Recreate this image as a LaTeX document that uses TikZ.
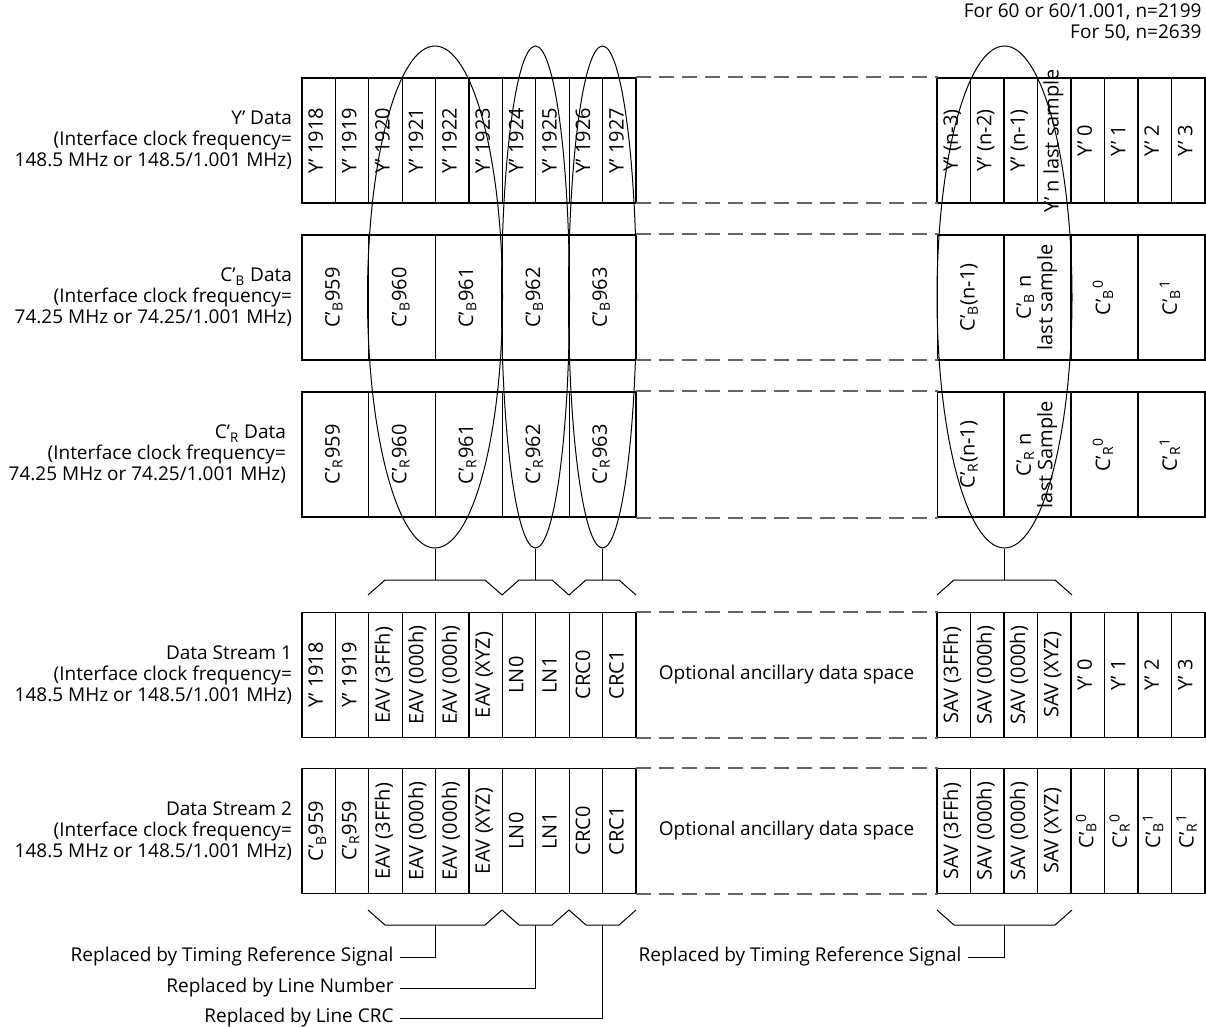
\documentclass[tikz,border=0pt]{standalone}
\usepackage{fontspec}
\setmainfont{Open Sans}
\usetikzlibrary{shapes.geometric,positioning}

\newcommand{\vlabel}[1]{\rotatebox{90}{\makebox[50pt]{\begin{tabular}{@{}c@{}}#1\end{tabular}}}}
\newcommand{\cbprime}{C’\textsubscript{B}}
\newcommand{\crprime}{C’\textsubscript{R}}

\begin{document}
\begin{tikzpicture}[x=0.5pt, y=-0.5pt, line width=0.5pt,
    font=\fontsize{9.5}{10.5}\selectfont,
    cellbox/.style={draw, rectangle, line width=0.6pt, inner sep=0pt,
        minimum width=16.7pt, minimum height=62.5pt, font=\fontsize{10}{10.5}\selectfont},
    widebox/.style={cellbox, minimum width=33.4pt},
    gapbox/.style={rectangle, inner sep=0pt, minimum width=150.5pt, minimum height=62.5pt},
    gapline/.style={draw=black!60, line width=1pt, dash pattern=on 7.5pt off 4pt},
    ovalmark/.style={draw, ellipse, inner sep=0pt, minimum width=67.5pt, minimum height=251pt},
    rowlabel/.style={align=right, inner sep=0pt},
    note/.style={anchor=east, inner sep=3pt}]
\useasboundingbox (0,0) rectangle (1206,1027);

\node[anchor=east, align=right, inner sep=0pt] (nlen) at (1202,22)
    {For 60 or 60/1.001, n=2199\\For 50, n=2639};

% Y' data
\foreach \t [count=\i] in {1918,...,1927}
    \node[cellbox] (y\i) at ({302+33.4*(\i-0.5)},140.5) {\vlabel{Y’ \t}};
\node[gapbox] (gy) at (786.5,140.5) {};
\foreach \t [count=\i] in {{(n-3)},{(n-2)},{(n-1)},{n last sample},0,1,2,3}
    \node[cellbox] (yr\i) at ({937+33.5*(\i-0.5)},140.5) {\vlabel{Y’ \t}};
\node[rowlabel, left=4.5pt of y1] (ylab)
    {Y’ Data\\(Interface clock frequency=\\148.5 MHz or 148.5/1.001 MHz)};

% C'B data
\foreach \t [count=\i] in {959,...,963}
    \node[widebox] (cb\i) at ({302+66.8*(\i-0.5)},297.5) {\vlabel{\cbprime\t}};
\node[gapbox] (gb) at (786.5,297.5) {};
\foreach \t [count=\i] in {{(n-1)},{\ n\\last sample},\textsuperscript{0},\textsuperscript{1}}
    \node[widebox] (cbr\i) at ({937+67*(\i-0.5)},297.5) {\vlabel{\cbprime\t}};
\node[rowlabel, left=4.5pt of cb1] (cblab)
    {\cbprime\ Data\\(Interface clock frequency=\\74.25 MHz or 74.25/1.001 MHz)};

% C'R data
\foreach \t [count=\i] in {959,...,963}
    \node[widebox] (cr\i) at ({302+66.8*(\i-0.5)},454.5) {\vlabel{\crprime\t}};
\node[gapbox] (gr) at (786.5,454.5) {};
\foreach \t [count=\i] in {{(n-1)},{\ n\\last Sample},\textsuperscript{0},\textsuperscript{1}}
    \node[widebox] (crr\i) at ({937+67*(\i-0.5)},454.5) {\vlabel{\crprime\t}};
\node[rowlabel, left=7.5pt of cr1] (crlab)
    {\crprime\ Data\\(Interface clock frequency=\\74.25 MHz or 74.25/1.001 MHz)};

% data stream 1
\foreach \t [count=\i] in {Y’ 1918, Y’ 1919, EAV (3FFh), EAV (000h), EAV (000h), EAV (XYZ), LN0, LN1, CRC0, CRC1}
    \node[cellbox] (ds\i) at ({302+33.4*(\i-0.5)},675) {\vlabel{\t}};
\node[gapbox] (gs) at (786.5,675) {Optional ancillary data space};
\foreach \t [count=\i] in {SAV (3FFh), SAV (000h), SAV (000h), SAV (XYZ), Y’ 0, Y’ 1, Y’ 2, Y’ 3}
    \node[cellbox] (dsr\i) at ({937+33.5*(\i-0.5)},675) {\vlabel{\t}};
\node[rowlabel, left=4.5pt of ds1] (dslab)
    {Data Stream 1\\(Interface clock frequency=\\148.5 MHz or 148.5/1.001 MHz)};

% data stream 2
\foreach \t [count=\i] in {\cbprime959, \crprime959, EAV (3FFh), EAV (000h), EAV (000h), EAV (XYZ), LN0, LN1, CRC0, CRC1}
    \node[cellbox] (dt\i) at ({302+33.4*(\i-0.5)},831) {\vlabel{\t}};
\node[gapbox] (gt) at (786.5,831) {Optional ancillary data space};
\foreach \t [count=\i] in {SAV (3FFh), SAV (000h), SAV (000h), SAV (XYZ),
        \cbprime\textsuperscript{0}, \crprime\textsuperscript{0}, \cbprime\textsuperscript{1}, \crprime\textsuperscript{1}}
    \node[cellbox] (dtr\i) at ({937+33.5*(\i-0.5)},831) {\vlabel{\t}};
\node[rowlabel, left=4.5pt of dt1] (dtlab)
    {Data Stream 2\\(Interface clock frequency=\\148.5 MHz or 148.5/1.001 MHz)};

\foreach \g in {gy,gb,gr,gs,gt}
    \draw[gapline] (\g.north west) -- (\g.north east) (\g.south west) -- (\g.south east);

% ovals round the words that get replaced
\node[ovalmark] (e1) at (435,297) {};
\node[ovalmark, minimum width=34pt] (e2) at (535.5,297) {};
\node[ovalmark, minimum width=34pt] (e3) at (602.5,297) {};
\node[ovalmark] (e4) at (1004.5,297) {};

\foreach \a/\b/\e in {368/502/e1, 502/569/e2, 569/636/e3, 937/1072/e4} {
    \coordinate (top\e) at ({(\a+\b)/2},580);
    \draw (\a,595) -- ++(17,-15) -- ({\b-17},580) -- (\b,595);
    \draw (\e.south) -- (top\e);
}

\foreach \a/\b/\n in {368/502/1, 502/569/2, 569/636/3, 937/1072/4} {
    \coordinate (bot\n) at ({(\a+\b)/2},925);
    \draw (\a,910) -- ++(17,15) -- ({\b-17},925) -- (\b,910);
}

\node[note] (tref) at (400,957) {Replaced by Timing Reference Signal};
\node[note] (lnum) at (400,988) {Replaced by Line Number};
\node[note] (lcrc) at (400,1018) {Replaced by Line CRC};
\node[note] (tref2) at (968,957) {Replaced by Timing Reference Signal};
\draw (tref.east) -| (bot1);
\draw (lnum.east) -| (bot2);
\draw (lcrc.east) -| (bot3);
\draw (tref2.east) -| (bot4);
\end{tikzpicture}
\end{document}
